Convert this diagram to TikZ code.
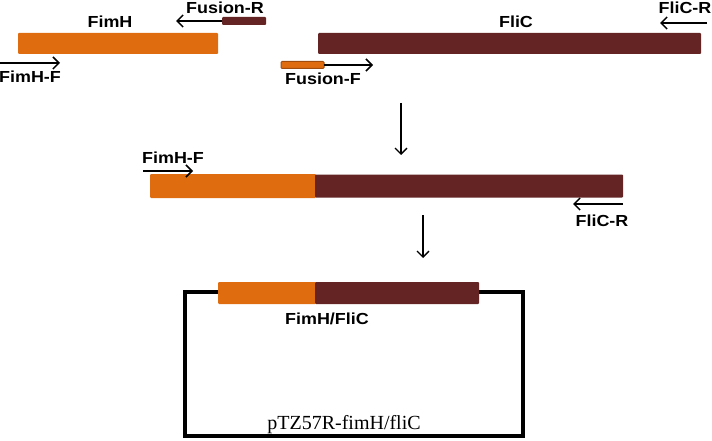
\documentclass[tikz,border=0pt]{standalone}
\usepackage{fontspec}
\setmainfont{Liberation Serif}
\newfontfamily\labelfont[FakeStretch=1.12]{Liberation Sans}
\definecolor{fimorange}{RGB}{224, 108, 16}
\definecolor{flibrown}{RGB}{99, 36, 35}
\definecolor{fusedge}{RGB}{160, 76, 12}
\usetikzlibrary{positioning,arrows.meta}

\begin{document}
\begin{tikzpicture}[
                    x=1pt, y=-1pt,
                    every node/.style={
                        inner sep=0pt,
                        outer sep=0pt
                    },
                    genebar/.style={
                        rectangle,
                        rounded corners=1pt,
                        anchor=west,
                        minimum height=21pt
                    },
                    fimbar/.style={
                        genebar,
                        fill=fimorange
                    },
                    flibar/.style={
                        genebar,
                        fill=flibrown
                    },
                    genelabel/.style={
                        font=\labelfont\fontsize{16}{16}\selectfont\bfseries,
                        text=black
                    },
                    primer/.style={
                        draw=black,
                        line width=1.5pt,
                        -{Straight Barb[length=6pt,width=12pt,line width=1.5pt]}
                    },
                    stepdown/.style={
                        draw=black,
                        line width=1.3pt,
                        -{Straight Barb[length=6pt,width=12pt,line width=1.3pt]}
                    },
                    plasmid/.style={
                        draw=black,
                        line width=4pt,
                        line join=miter
                    }
                ]
\useasboundingbox (0,0) rectangle (712,441);

% first row: the two genes and their primers
\node[fimbar, minimum width=200pt] (fimh) at (18,43.5) {};
\node[flibar, minimum width=383pt] (flic) at (318,43.5) {};
\node[flibar, minimum width=44pt, minimum height=8pt] (fusr) at (222,21) {};
\node[fimbar, draw=fusedge, line width=1pt, minimum width=43pt, minimum height=7pt] (fusf) at (281,65) {};

\node[genelabel] (fimhlab) at (110,21.5) {FimH};
\node[genelabel] (fliclab) at (516,21.5) {FliC};
\node[genelabel] (fusrlab) at (225,7.5) {Fusion-R};
\node[genelabel] (flicrlab) at (685,7.5) {FliC-R};
\node[genelabel] (fimhflab) at (30,77) {FimH-F};
\node[genelabel] (fusflab) at (323,78.5) {Fusion-F};

\coordinate (fimhfa) at (0,63);
\coordinate (fimhfb) at (60,63);
\coordinate (fusrb) at (176,21);
\coordinate (fusfb) at (373,65);
\coordinate (flicra) at (707,23);
\coordinate (flicrb) at (660,23);

\draw[primer] (fimhfa) -- (fimhfb);
\draw[primer] (fusr.west) -- (fusrb);
\draw[primer] (fusf.east) -- (fusfb);
\draw[primer] (flicra) -- (flicrb);

% fused product
\coordinate (stepa) at (401,103);
\coordinate (stepb) at (401,155);
\draw[stepdown] (stepa) -- (stepb);

\node[fimbar, minimum width=166pt, minimum height=24pt] (fusa) at (150,186) {};
\node[flibar, minimum width=308pt, minimum height=23pt, right=-1pt of fusa] (fusb) {};

\node[genelabel] (fimhflab2) at (173,158) {FimH-F};
\node[genelabel] (flicrlab2) at (602,221) {FliC-R};

\coordinate (fimhfc) at (143,171);
\coordinate (fimhfd) at (193,171);
\coordinate (flicrc) at (623,204);
\coordinate (flicrd) at (573,204);
\draw[primer] (fimhfc) -- (fimhfd);
\draw[primer] (flicrc) -- (flicrd);

% cloned into the vector
\coordinate (stepc) at (423,215);
\coordinate (stepd) at (423,258);
\draw[stepdown] (stepc) -- (stepd);

\coordinate (vecbl) at (185,436);
\coordinate (vecbr) at (523,436);
\draw[plasmid] (218,292) -| (vecbl) -- (vecbr) |- (478,292);

\node[fimbar, minimum width=98pt, minimum height=22pt] (insa) at (218,293) {};
\node[flibar, minimum width=164pt, minimum height=22pt, right=-1pt of insa] (insb) {};

\node[genelabel] (inslab) at (327,319) {FimH/FliC};
\node[font=\fontsize{20}{20}\selectfont] (veclab) at (344,425) {pTZ57R-fimH/fliC};
\end{tikzpicture}
\end{document}
